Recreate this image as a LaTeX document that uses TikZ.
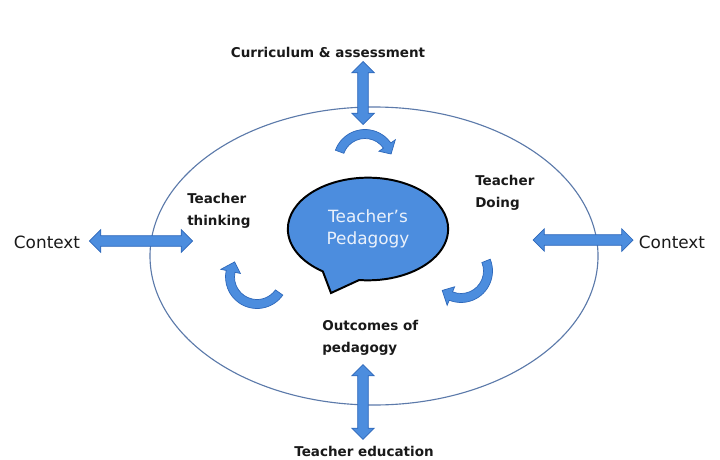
\documentclass[tikz,border=0pt]{standalone}
\usepackage{fontspec}
\setmainfont{DejaVu Sans}
\usetikzlibrary{shapes.arrows, shapes.callouts}

\definecolor{arrowblue}{RGB}{76,141,222}
\definecolor{arrowedge}{RGB}{46,104,186}
\definecolor{ringblue}{RGB}{92,122,170}
\definecolor{inktext}{RGB}{25,25,25}

\tikzstyle{bigarrow} = [double arrow, draw=arrowedge, fill=arrowblue, line width=0.5pt, minimum width=15.6pt, double arrow head extend=4.3pt, double arrow head indent=0pt, inner xsep=0pt, inner ysep=3.5pt]
\tikzstyle{roundarrow} = [draw=arrowedge, fill=arrowblue, line width=0.5pt]
\tikzstyle{textlabel} = [font=\bfseries\fontsize{9.6}{15.6}\selectfont, text=inktext, align=left, inner sep=0pt]
\tikzstyle{ctx} = [font=\fontsize{12}{14}\selectfont, text=inktext, inner sep=0pt]
\tikzstyle{bubble} = [ellipse callout, draw=black, line width=1.4pt, fill=arrowblue, text=white!88!arrowblue, minimum width=114pt, minimum height=73pt, callout pointer arc=28, align=center, font=\fontsize{12}{15.6}\selectfont]

% centre x, centre y, start angle, end of shaft, tip
\newcommand{\roundarrow}[5]{%
  \filldraw[roundarrow, shift={(#1,#2)}] (#3:31.5) arc[start angle=#3, end angle=#4, radius=31.5]
    -- (#4:37) -- (#5:27) -- (#4:17) -- (#4:22.5) arc[start angle=#4, end angle=#3, radius=22.5] -- cycle;}

\begin{document}
\begin{tikzpicture}[x=0.025cm, y=-0.025cm]
\useasboundingbox (0,0) rectangle (720,459);

\draw[ringblue, line width=0.8pt] (374,256) ellipse [x radius=224, y radius=149];

\node (peda) [bubble, callout absolute pointer={(331,293)}] at (368,229) {Teacher’s\\Pedagogy};

\node (curric) [textlabel] at (328,52) {Curriculum \& assessment};
\node (teached) [textlabel] at (364,451) {Teacher education};
\node (thinking) [textlabel, anchor=west] at (187,211) {Teacher\\thinking};
\node (doing) [textlabel, anchor=west] at (475,193) {Teacher\\Doing};
\node (outcomes) [textlabel, anchor=west] at (322,338) {Outcomes of\\pedagogy};
\node (ctxL) [ctx] at (47,242) {Context};
\node (ctxR) [ctx] at (672,242) {Context};

\node (upArrow) [bigarrow, rotate=90, minimum height=44.8pt] at (363,93) {};
\node (downArrow) [bigarrow, rotate=90, minimum height=53.3pt] at (363,402) {};
\node (leftArrow) [bigarrow, minimum height=73.3pt] at (141,241) {};
\node (rightArrow) [bigarrow, minimum height=71.1pt] at (583,240) {};

\roundarrow{365}{161}{200}{325}{345}
\roundarrow{257}{277}{35}{192}{214}
\roundarrow{461}{271}{-22}{112}{134}

\end{tikzpicture}
\end{document}
